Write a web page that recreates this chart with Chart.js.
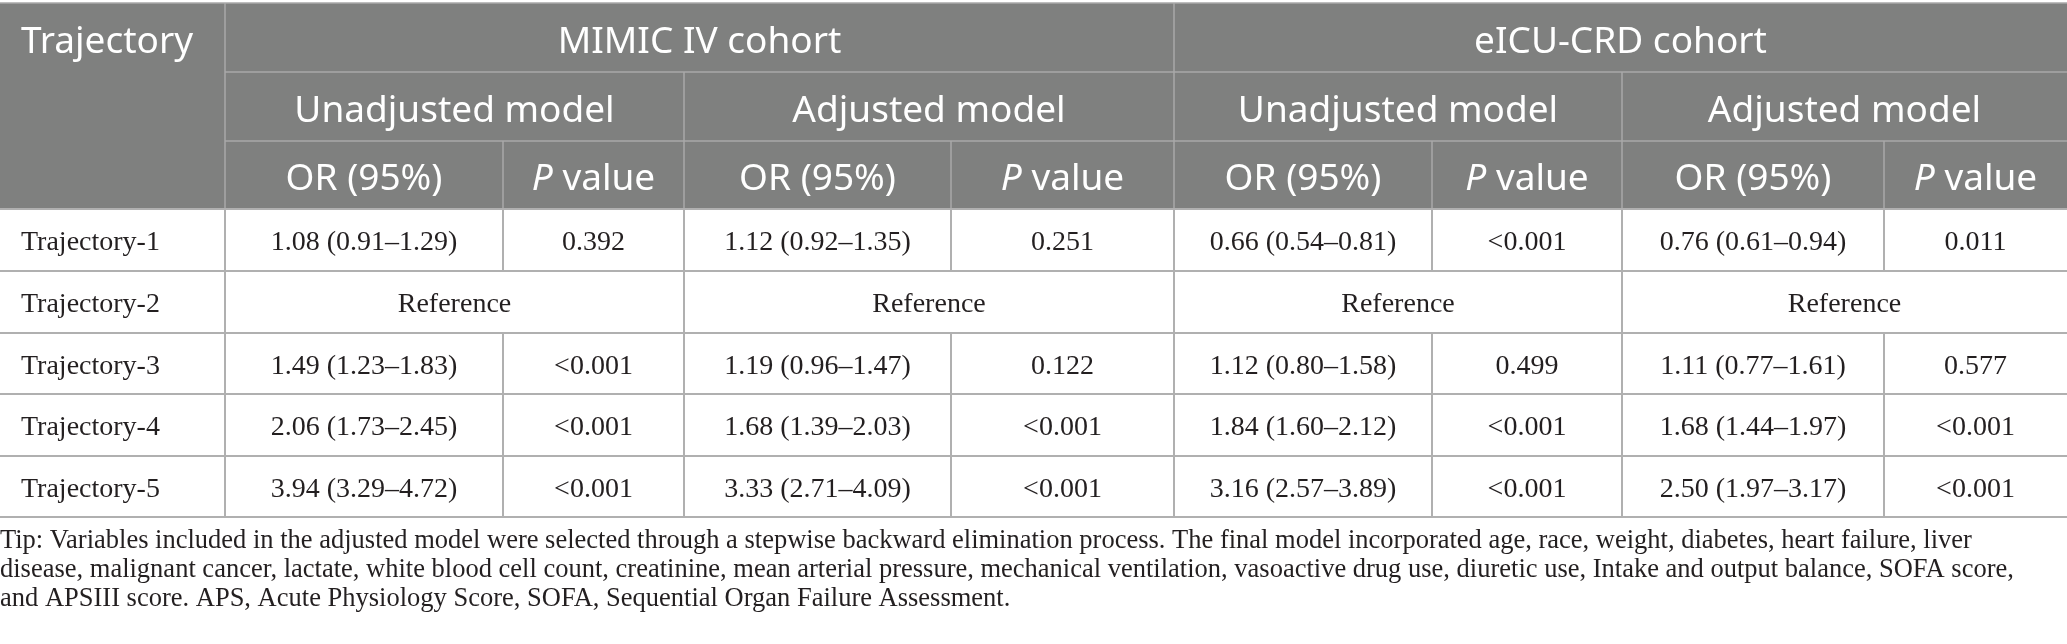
<!DOCTYPE html>
<html>
<head>
<meta charset="utf-8">
<script src="https://cdn.jsdelivr.net/npm/chart.js@4.4.1/dist/chart.umd.min.js"></script>
<style>
  html, body { margin: 0; padding: 0; background: #ffffff; }
</style>
</head>
<body>
<canvas id="oddsTable" width="2067" height="644"></canvas>
<script>
// Table content
const trajectories = ['Trajectory-1', 'Trajectory-2', 'Trajectory-3', 'Trajectory-4', 'Trajectory-5'];
const cohorts = ['MIMIC IV cohort', 'eICU-CRD cohort'];
const models = ['Unadjusted model', 'Adjusted model'];
const statHeads = ['OR (95%)', 'value'];
const referenceRow = 1;

const mimicUnadjOR = ['1.08 (0.91–1.29)', 'Reference', '1.49 (1.23–1.83)', '2.06 (1.73–2.45)', '3.94 (3.29–4.72)'];
const mimicUnadjP = ['0.392', null, '<0.001', '<0.001', '<0.001'];
const mimicAdjOR = ['1.12 (0.92–1.35)', 'Reference', '1.19 (0.96–1.47)', '1.68 (1.39–2.03)', '3.33 (2.71–4.09)'];
const mimicAdjP = ['0.251', null, '0.122', '<0.001', '<0.001'];
const eicuUnadjOR = ['0.66 (0.54–0.81)', 'Reference', '1.12 (0.80–1.58)', '1.84 (1.60–2.12)', '3.16 (2.57–3.89)'];
const eicuUnadjP = ['<0.001', null, '0.499', '<0.001', '<0.001'];
const eicuAdjOR = ['0.76 (0.61–0.94)', 'Reference', '1.11 (0.77–1.61)', '1.68 (1.44–1.97)', '2.50 (1.97–3.17)'];
const eicuAdjP = ['0.011', null, '0.577', '<0.001', '<0.001'];

const footnote = [
  'Tip: Variables included in the adjusted model were selected through a stepwise backward elimination process. The final model incorporated age, race, weight, diabetes, heart failure, liver',
  'disease, malignant cancer, lactate, white blood cell count, creatinine, mean arterial pressure, mechanical ventilation, vasoactive drug use, diuretic use, Intake and output balance, SOFA score,',
  'and APSIII score. APS, Acute Physiology Score, SOFA, Sequential Organ Failure Assessment.'
];

// layout (not data)
const colWidths = [225, 278, 181, 267, 223, 258, 190, 262, 183];
const rowHeights = [69, 69, 68, 62, 62, 61, 62, 61];
const headFont = '"Noto Sans", sans-serif';
const bodyFont = '"Liberation Serif", serif';
const headSize = 37;
const bodySize = 28;

const colEdges = [0];
colWidths.forEach(w => colEdges.push(colEdges[colEdges.length - 1] + w));
const rowEdges = [0];
rowHeights.forEach(h => rowEdges.push(rowEdges[rowEdges.length - 1] + h));

const valueCols = [mimicUnadjOR, mimicUnadjP, mimicAdjOR, mimicAdjP, eicuUnadjOR, eicuUnadjP, eicuAdjOR, eicuAdjP];

const tablePlugin = {
  id: 'tablePlugin',
  afterDraw(chart) {
    const ctx = chart.ctx;
    const xs = chart.scales.x, ys = chart.scales.y;
    const X = v => xs.getPixelForValue(v);
    const Y = v => ys.getPixelForValue(v);
    const cx = (a, b) => (X(colEdges[a]) + X(colEdges[b])) / 2;
    const cy = r => (Y(rowEdges[r]) + Y(rowEdges[r + 1])) / 2;
    const last = colEdges.length - 1;

    ctx.save();
    // header band
    ctx.fillStyle = '#7f807f';
    ctx.fillRect(X(0), Y(0), X(colEdges[last]) - X(0), Y(rowEdges[3]) - Y(0));

    function line(x1, y1, x2, y2) {
      ctx.beginPath();
      ctx.moveTo(x1, y1);
      ctx.lineTo(x2, y2);
      ctx.stroke();
    }

    // header rules
    ctx.strokeStyle = '#a9a9a9';
    ctx.lineWidth = 1.5;
    line(X(0), Y(0), X(colEdges[last]), Y(0));
    line(X(colEdges[1]), Y(rowEdges[1]), X(colEdges[last]), Y(rowEdges[1]));
    line(X(colEdges[1]), Y(rowEdges[2]), X(colEdges[last]), Y(rowEdges[2]));
    [1, 5].forEach(c => line(X(colEdges[c]), Y(0), X(colEdges[c]), Y(rowEdges[3])));
    [3, 7].forEach(c => line(X(colEdges[c]), Y(rowEdges[1]), X(colEdges[c]), Y(rowEdges[3])));
    [2, 4, 6, 8].forEach(c => line(X(colEdges[c]), Y(rowEdges[2]), X(colEdges[c]), Y(rowEdges[3])));

    // body rules
    ctx.strokeStyle = '#b0b0b0';
    ctx.lineWidth = 2;
    for (let r = 3; r <= rowEdges.length - 1; r++) {
      line(X(0), Y(rowEdges[r]), X(colEdges[last]), Y(rowEdges[r]));
    }
    trajectories.forEach((t, i) => {
      const r = i + 3;
      for (let c = 1; c < last; c++) {
        if (i === referenceRow && c % 2 === 0) continue;
        line(X(colEdges[c]), Y(rowEdges[r]), X(colEdges[c]), Y(rowEdges[r + 1]));
      }
    });

    // header text
    const hb = r => cy(r) + 15;
    ctx.fillStyle = '#ffffff';
    ctx.textBaseline = 'alphabetic';
    ctx.font = headSize + 'px ' + headFont;
    ctx.textAlign = 'left';
    ctx.fillText('Trajectory', X(colEdges[0]) + 21, hb(0));
    ctx.textAlign = 'center';
    cohorts.forEach((c, i) => ctx.fillText(c, cx(1 + i * 4, 5 + i * 4), hb(0)));
    for (let k = 0; k < 4; k++) {
      ctx.fillText(models[k % 2], cx(1 + k * 2, 3 + k * 2), hb(1));
    }
    for (let k = 0; k < 8; k++) {
      const mid = cx(1 + k, 2 + k);
      if (k % 2 === 0) {
        ctx.textAlign = 'center';
        ctx.font = headSize + 'px ' + headFont;
        ctx.fillText(statHeads[0], mid, hb(2));
      } else {
        ctx.font = 'italic ' + headSize + 'px ' + headFont;
        const wp = ctx.measureText('P').width;
        ctx.font = headSize + 'px ' + headFont;
        const wv = ctx.measureText(' ' + statHeads[1]).width;
        const left = mid - (wp + wv) / 2;
        ctx.textAlign = 'left';
        ctx.font = 'italic ' + headSize + 'px ' + headFont;
        ctx.fillText('P', left, hb(2));
        ctx.font = headSize + 'px ' + headFont;
        ctx.fillText(' ' + statHeads[1], left + wp, hb(2));
      }
    }

    // body text
    const bb = r => cy(r) + 10;
    ctx.fillStyle = '#231f20';
    ctx.font = bodySize + 'px ' + bodyFont;
    trajectories.forEach((t, i) => {
      const r = i + 3;
      ctx.textAlign = 'left';
      ctx.fillText(t, X(colEdges[0]) + 21, bb(r));
      ctx.textAlign = 'center';
      valueCols.forEach((col, k) => {
        if (col[i] === null) return;
        if (i === referenceRow) {
          ctx.fillText(col[i], cx(1 + k, 3 + k), bb(r));
        } else {
          ctx.fillText(col[i], cx(1 + k, 2 + k), bb(r));
        }
      });
    });
    ctx.restore();
  }
};

const ctx = document.getElementById('oddsTable').getContext('2d');
const chart = new Chart(ctx, {
  type: 'scatter',
  data: { datasets: [{ data: [] }] },
  options: {
    responsive: false,
    animation: false,
    devicePixelRatio: 1,
    layout: { padding: { top: 3, left: 0, right: 0, bottom: 0 } },
    scales: {
      x: { type: 'linear', min: 0, max: colEdges[colEdges.length - 1], display: false },
      y: { type: 'linear', min: 0, max: rowEdges[rowEdges.length - 1], reverse: true, display: false }
    },
    plugins: {
      legend: { display: false },
      tooltip: { enabled: false },
      title: {
        display: true,
        position: 'bottom',
        align: 'start',
        text: footnote,
        color: '#231f20',
        font: { family: bodyFont, size: 26.5, weight: 'normal', lineHeight: 29 / 26.5 },
        padding: { top: 10, bottom: 30 }
      }
    }
  },
  plugins: [tablePlugin]
});
</script>
</body>
</html>
